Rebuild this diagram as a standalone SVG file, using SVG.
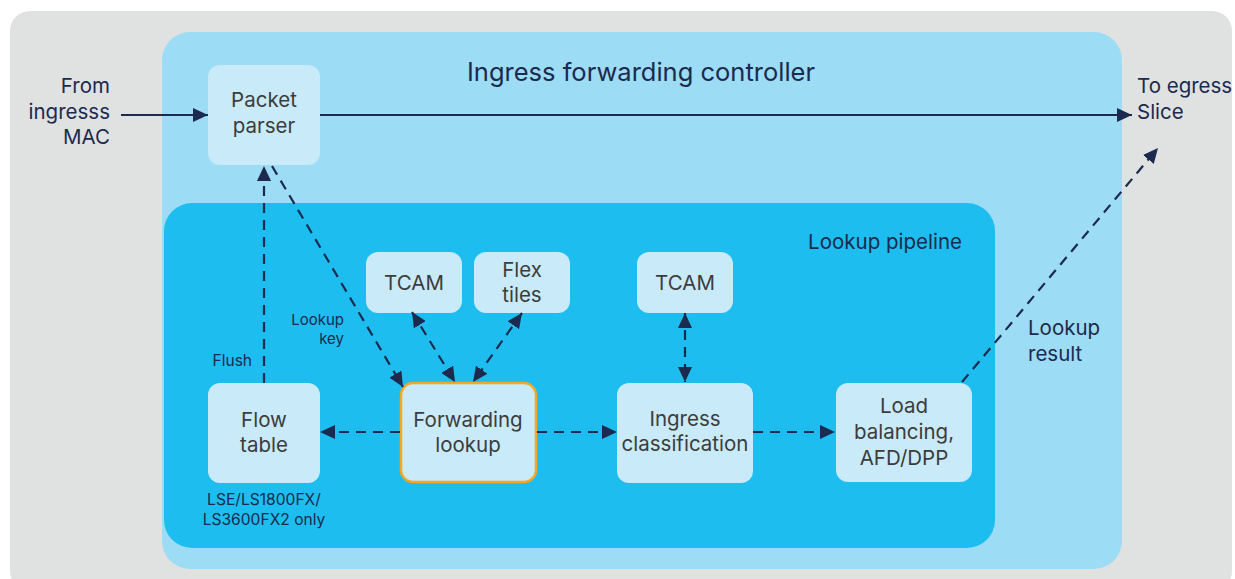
<svg xmlns="http://www.w3.org/2000/svg" width="1235" height="579" viewBox="0 0 1235 579">
<style>
.box{fill:#c9eaf8}
.bt{font-family:Inter,"Liberation Sans",sans-serif;font-size:20.5px;fill:#3c3c3c;text-anchor:middle}
.lbl{font-family:Inter,"Liberation Sans",sans-serif;fill:#1b2a4e}
.solid{stroke:#1b2a4e;stroke-width:2.2;fill:none}
.dash{stroke:#1b2a4e;stroke-width:2.2;fill:none;stroke-dasharray:10 7}
</style>
<defs>
<marker id="ah" markerUnits="userSpaceOnUse" markerWidth="16" markerHeight="14" refX="15" refY="7" orient="auto-start-reverse">
<path d="M0,0 L15,7 L0,14 z" fill="#1b2a4e"/>
</marker>
</defs>
<rect x="10" y="11" width="1222" height="580" rx="20" fill="#e0e2e2"/>
<g id="controller">
<rect x="162" y="32" width="960" height="537" rx="28" fill="#9cdcf5"/>
<text x="641" y="81" class="lbl" font-size="25.5" text-anchor="middle">Ingress forwarding controller</text>
</g>
<g id="pipeline">
<rect x="164" y="203" width="831" height="345" rx="28" fill="#1dbeef"/>
<text x="962" y="249" class="lbl" font-size="20.5" text-anchor="end">Lookup pipeline</text>
</g>
<g id="packet-parser">
<rect class="box" x="208" y="65" width="112" height="100" rx="12"/>
<text class="bt" x="264" y="107">Packet</text>
<text class="bt" x="264" y="133">parser</text>
</g>
<g id="tcam1">
<rect class="box" x="366" y="252" width="96" height="61" rx="12"/>
<text class="bt" x="414" y="290">TCAM</text>
</g>
<g id="flex-tiles">
<rect class="box" x="474" y="252" width="96" height="61" rx="12"/>
<text class="bt" x="522" y="277">Flex</text>
<text class="bt" x="522" y="302">tiles</text>
</g>
<g id="tcam2">
<rect class="box" x="637" y="252" width="96" height="61" rx="12"/>
<text class="bt" x="685" y="290">TCAM</text>
</g>
<g id="flow-table">
<rect class="box" x="208" y="383" width="112" height="100" rx="12"/>
<text class="bt" x="264" y="427">Flow</text>
<text class="bt" x="264" y="452">table</text>
<text class="lbl" x="264" y="505" font-size="15.6" text-anchor="middle">LSE/LS1800FX/</text>
<text class="lbl" x="264" y="525" font-size="15.6" text-anchor="middle">LS3600FX2 only</text>
</g>
<g id="forwarding-lookup">
<rect class="box" x="401" y="383" width="135" height="99" rx="12" stroke="#f5a623" stroke-width="2.5"/>
<text class="bt" x="468" y="427">Forwarding</text>
<text class="bt" x="468" y="452">lookup</text>
</g>
<g id="ingress-classification">
<rect class="box" x="617" y="383" width="136" height="100" rx="12"/>
<text class="bt" x="685" y="426">Ingress</text>
<text class="bt" x="685" y="451">classification</text>
</g>
<g id="load-balancing">
<rect class="box" x="836" y="383" width="136" height="99" rx="12"/>
<text class="bt" x="904" y="413">Load</text>
<text class="bt" x="904" y="439">balancing,</text>
<text class="bt" x="904" y="465">AFD/DPP</text>
</g>
<g id="io-labels">
<text class="lbl" font-size="20.5" text-anchor="end" x="110" y="93">From</text>
<text class="lbl" font-size="20.5" text-anchor="end" x="110" y="119">ingresss</text>
<text class="lbl" font-size="20.5" text-anchor="end" x="110" y="144">MAC</text>
<text class="lbl" font-size="20.5" x="1137" y="93">To egress</text>
<text class="lbl" font-size="20.5" x="1137" y="119">Slice</text>
</g>
<g id="connectors">
<line class="solid" x1="121" y1="115" x2="208" y2="115" marker-end="url(#ah)"/>
<line class="solid" x1="320" y1="115" x2="1132" y2="115" marker-end="url(#ah)"/>
<line class="dash" x1="264" y1="383" x2="264" y2="166" marker-end="url(#ah)"/>
<line class="dash" x1="272" y1="166" x2="403" y2="387" marker-end="url(#ah)"/>
<line class="dash" x1="412" y1="312" x2="455" y2="382" marker-start="url(#ah)" marker-end="url(#ah)"/>
<line class="dash" x1="522" y1="313" x2="473" y2="382" marker-start="url(#ah)" marker-end="url(#ah)"/>
<line class="dash" x1="685" y1="313" x2="685" y2="382" marker-start="url(#ah)" marker-end="url(#ah)"/>
<line class="dash" x1="400" y1="432" x2="320" y2="432" marker-end="url(#ah)"/>
<line class="dash" x1="537" y1="432" x2="617" y2="432" marker-end="url(#ah)"/>
<line class="dash" x1="753" y1="432" x2="835" y2="432" marker-end="url(#ah)"/>
<line class="dash" x1="962" y1="382" x2="1158" y2="148" marker-end="url(#ah)"/>
<text class="lbl" font-size="15.5" x="252" y="366" text-anchor="end">Flush</text>
<text class="lbl" font-size="15" x="344" y="325" text-anchor="end">Lookup</text>
<text class="lbl" font-size="15" x="344" y="344" text-anchor="end">key</text>
<text class="lbl" font-size="20.5" x="1028" y="335">Lookup</text>
<text class="lbl" font-size="20.5" x="1028" y="361">result</text>
</g>
</svg>
